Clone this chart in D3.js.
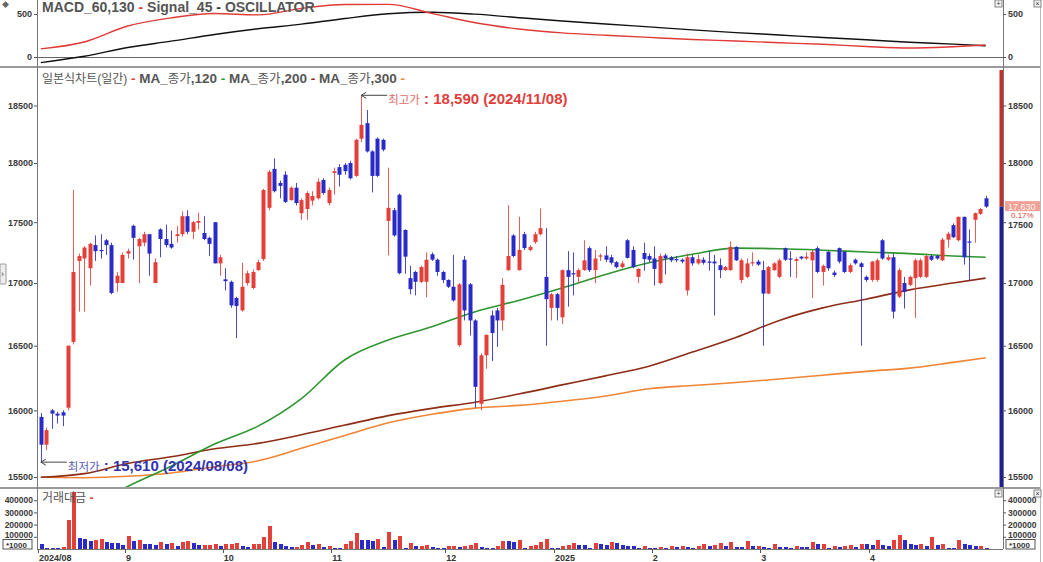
<!DOCTYPE html>
<html><head><meta charset="utf-8">
<script src="https://cdn.jsdelivr.net/npm/d3@7"></script>
<style>
body{margin:0;background:#fff;overflow:hidden;}
svg{display:block;font-family:"Liberation Sans","Noto Sans CJK KR",Arial,sans-serif;}
</style>
</head><body>
<svg id="c" width="1043" height="562"></svg>
<script>
// ---------------- DATA ----------------
const open = [15950,15740,16000,15975,15985,16020,16530,17180,17200,17120,
17310,17270,17350,17310,17000,17000,17240,17470,17300,17330,
17400,17000,17440,17360,17320,17385,17400,17550,17420,17495,
17410,17370,17500,17160,17030,17010,16880,16780,17000,16960,
17105,17195,17620,17950,17830,17900,17685,17790,17575,17610,
17680,17700,17855,17660,17915,17965,17985,18000,17890,18210,
18345,18100,18210,18200,17510,17600,17730,17435,17040,17090,
17010,17010,17235,17190,17090,17025,16970,16505,17190,16990,
16700,16050,16425,16740,16780,16700,17105,17390,17105,17400,
17270,17335,17400,17050,16800,16910,16725,17105,17080,17050,
17105,17285,17105,17215,17225,17210,17170,17130,17350,17270,
17050,17245,17220,17200,17000,17225,17210,17195,17190,16940,
17210,17160,17190,17175,17175,17145,17105,17105,17295,17025,
17050,17160,17175,17105,16915,17105,17050,17285,17200,17180,
17215,17200,17185,17285,17090,17255,17085,17285,17255,17090,
17190,17160,17050,17025,17025,17350,17190,17210,16890,17000,
16985,17040,17050,17050,17220,17220,17185,17355,17475,17350,
17545,17340,17520,17570,17700];
const high = [15980,15870,16010,15990,16000,16500,17770,17240,17300,17330,
17390,17400,17360,17330,17090,17250,17280,17480,17370,17420,
17400,17200,17450,17480,17430,17470,17590,17600,17510,17580,
17550,17380,17500,17230,17120,17020,16890,17165,17100,17110,
17190,17780,17940,18040,17850,17930,17800,17830,17700,17760,
17760,17870,17870,17790,17960,17990,18000,18020,18210,18590,
18460,18110,18220,18210,17960,17620,17740,17440,17140,17100,
17140,17250,17250,17200,17100,17030,17230,17000,17220,17000,
16710,16440,16590,16780,16800,17040,17640,17400,17545,17420,
17310,17420,17615,17450,16920,16920,17110,17260,17250,17120,
17350,17300,17270,17240,17300,17230,17180,17180,17360,17300,
17120,17330,17240,17300,17240,17240,17220,17220,17200,17240,
17230,17230,17210,17260,17230,17200,17140,17340,17300,17200,
17200,17250,17190,17180,17140,17170,17200,17290,17260,17210,
17220,17250,17270,17300,17150,17260,17100,17290,17260,17160,
17200,17170,17060,17180,17200,17360,17230,17240,17120,17050,
17060,17200,17200,17230,17230,17230,17370,17420,17490,17545,
17545,17440,17580,17620,17720];
const low = [15610,15700,15860,15900,15880,16000,16510,16770,16770,16980,
17180,17200,17230,16910,16930,17000,17200,17190,17000,17300,
17060,17000,17210,17290,17280,17330,17380,17400,17360,17440,
17350,17220,17160,17060,16940,16800,16560,16770,16980,16950,
17100,17180,17600,17750,17700,17660,17680,17640,17520,17520,
17640,17690,17730,17640,17730,17800,17900,17860,17880,18180,
18090,17750,17880,18100,17225,17380,17070,17075,16910,16900,
17000,16885,17180,17060,17000,16960,16850,16490,16700,16580,
16020,16000,16320,16380,16490,16620,17100,17210,17100,17270,
17260,17320,17390,16500,16700,16700,16670,16810,16900,17000,
17100,17090,17000,17180,17170,17150,17120,17120,17200,17120,
17000,17100,17170,16980,16990,17070,17170,17170,17160,16900,
17140,17150,17150,17100,16740,17040,17100,17100,17180,17000,
17040,17140,17140,16500,16910,17100,17040,17180,17050,17040,
17190,17190,16880,17080,16980,17100,17050,17160,17080,17080,
17150,16500,17010,17010,17010,17190,17180,16715,16880,16795,
16975,16720,17040,17040,17180,17190,17180,17290,17370,17340,
17150,17020,17330,17560,17620];
const close = [15740,15850,15975,15960,15960,16500,17090,17220,17290,17320,
17260,17260,17310,16920,17060,17230,17260,17370,17360,17400,
17240,17170,17360,17310,17290,17400,17550,17420,17500,17510,
17360,17320,17160,17210,17015,16820,16815,16970,17080,17090,
17170,17770,17925,17760,17805,17670,17790,17660,17685,17745,
17720,17840,17745,17770,17930,17900,17930,17870,18200,18330,
18100,17890,17890,18115,17620,17390,17080,17215,16950,17010,
17130,17190,17190,17090,17025,16970,16860,16990,16780,16700,
16180,16425,16585,16600,16700,16985,17220,17220,17270,17285,
17295,17400,17450,16870,16910,16800,17105,17050,17070,17105,
17185,17105,17200,17225,17190,17165,17130,17160,17205,17130,
17115,17195,17190,17115,17220,17200,17185,17190,17175,17210,
17160,17195,17165,17165,17160,17105,17130,17295,17185,17185,
17160,17170,17150,16915,17130,17160,17185,17190,17195,17195,
17200,17215,17255,17090,17140,17120,17065,17175,17090,17145,
17160,17130,17025,17175,17185,17200,17210,16770,17105,16930,
17050,17185,17185,17220,17190,17200,17355,17405,17375,17545,
17210,17330,17575,17610,17630];
// 거래대금 (x1000)
const volume = [41000,10000,7000,6000,15000,238000,470000,90000,85000,62000,
70000,80000,55000,52000,48000,30000,110000,62000,72000,45000,
43000,30000,55000,45000,50000,28000,60000,63000,50000,30000,
35000,36000,38000,25000,38000,42000,47000,22000,15000,40000,
45000,100000,190000,55000,40000,25000,15000,18000,35000,57000,
30000,41000,16000,22000,8000,7000,44000,68000,131000,71000,
70000,66000,85000,16000,137000,74000,104000,8000,49000,22000,
27000,30000,14000,11000,8000,22000,25000,14000,27000,35000,
49000,14000,11000,8000,27000,68000,63000,60000,77000,8000,
27000,35000,55000,85000,11000,8000,22000,30000,49000,35000,
30000,11000,49000,41000,35000,55000,50000,30000,28000,22000,
12000,25000,10000,8000,20000,8000,27000,14000,25000,14000,
11000,22000,41000,22000,30000,46000,27000,60000,16000,15000,
68000,27000,28000,14000,8000,44000,16000,14000,8000,22000,
16000,14000,57000,38000,41000,8000,27000,14000,27000,30000,
14000,44000,43000,35000,77000,35000,22000,77000,115000,71000,
38000,35000,41000,27000,98000,35000,41000,8000,7000,71000,
41000,35000,27000,28000,8000];
// line series sampled at these candle indices
const sampleIdx = [0,8,16,24,32,40,48,56,64,72,80,88,96,104,112,120,128,136,144,152,160,168,174];
const ma120 = [15120,15270,15430,15580,15745,15880,16090,16390,16545,16650,16770,16860,16960,17070,17165,17235,17285,17280,17268,17253,17240,17220,17210];
const ma200 = [15498,15525,15600,15650,15710,15750,15815,15888,15960,16015,16062,16125,16195,16265,16340,16450,16565,16700,16800,16870,16945,17000,17040];
const ma300 = [15498,15495,15505,15530,15575,15620,15713,15810,15905,15970,16017,16038,16070,16110,16165,16190,16213,16240,16270,16300,16325,16370,16405];
const macd   = [95,175,360,455,505,490,565,610,612,508,398,326,280,253,228,204,186,166,148,122,104,120,140];
const signal = [-66,8,110,184,262,328,382,448,503,520,498,457,418,384,350,316,284,256,227,200,172,150,131];
const monthIdx = [0,16,34,54,75,95,113,133,153];
const monthLabels = ["2024/08","9","10","11","12","2025","2","3","4"];
const priceTicks = [15500,16000,16500,17000,17500,18000,18500];
const volTicks = [100000,200000,300000,400000];
const macdTicks = [0,500];
const lastPrice = 17630, lastPriceText = "17,630", lastChangeText = "0.17%";
const hiIdx = 59, hiValue = 18590, hiText = "18,590 (2024/11/08)";
const loIdx = 0, loValue = 15610, loText = "15,610 (2024/08/08)";

// ---------------- CHART ----------------
const N = open.length;
const RED = "#e4403a", BLUE = "#2a2ac6";
const svg = d3.select("#c");
svg.append("rect").attr("width",1043).attr("height",562).attr("fill","#fff");

const XL = 37, XR = 1003;
const x = d3.scaleBand().domain(d3.range(N + 2)).range([38.1, 38.1 + (N + 2) * 5.43]).padding(0);
const cx = i => x(i) + x.bandwidth() / 2;
const bw = 4;
const y = d3.scaleLog().domain([15500, 18500]).range([477, 105.5]);
const ym = d3.scaleLinear().domain([0, 500]).range([57, 14]);
const yv = d3.scaleLinear().domain([0, 400000]).range([549, 500.2]);

const defs = svg.append("defs");
defs.append("clipPath").attr("id","cm").append("rect").attr("x",XL).attr("y",69).attr("width",XR-XL-3).attr("height",418);
defs.append("clipPath").attr("id","cd").append("rect").attr("x",XL).attr("y",0).attr("width",XR-XL).attr("height",66);

// frame lines
const frame = svg.append("g").attr("stroke","#9a9a9a").attr("shape-rendering","crispEdges");
frame.append("line").attr("x1",0).attr("x2",1041).attr("y1",67).attr("y2",67).attr("stroke-width",2);
frame.append("line").attr("x1",0).attr("x2",1041).attr("y1",488).attr("y2",488).attr("stroke-width",2);
frame.append("line").attr("x1",XL).attr("x2",XL).attr("y1",0).attr("y2",549).attr("stroke","#777");
frame.append("line").attr("x1",XR).attr("x2",XR).attr("y1",0).attr("y2",549).attr("stroke","#777");
frame.append("line").attr("x1",1040).attr("x2",1040).attr("y1",0).attr("y2",562).attr("stroke","#bbb");
frame.append("line").attr("x1",XL).attr("x2",XR).attr("y1",549).attr("y2",549).attr("stroke","#777");

// ---- MACD panel
svg.append("line").attr("x1",XL).attr("x2",XR).attr("y1",ym(0)).attr("y2",ym(0))
  .attr("stroke","#666").attr("shape-rendering","crispEdges");
const lineM = d3.line().x((d,k)=>cx(sampleIdx[k])).y(d=>ym(d)).curve(d3.curveMonotoneX);
const gM = svg.append("g").attr("clip-path","url(#cd)");
gM.append("path").attr("d",lineM(signal)).attr("fill","none").attr("stroke","#111").attr("stroke-width",1.4);
gM.append("path").attr("d",lineM(macd)).attr("fill","none").attr("stroke","#e03a36").attr("stroke-width",1.4);

function styleAxis(g, fs){
  g.select(".domain").remove();
  g.selectAll("line").attr("stroke","#555");
  g.selectAll("text").attr("font-size",fs).attr("font-weight","bold").attr("fill","#3a3a3a")
   .attr("font-family","'Liberation Sans',Arial,sans-serif");
  return g;
}
styleAxis(svg.append("g").attr("transform",`translate(${XL},0)`)
  .call(d3.axisLeft(ym).tickValues(macdTicks).tickSize(3).tickPadding(2).tickFormat(d3.format("d"))), 9);
styleAxis(svg.append("g").attr("transform",`translate(${XR},0)`)
  .call(d3.axisRight(ym).tickValues(macdTicks).tickSize(3).tickPadding(2).tickFormat(d3.format("d"))), 9);

const tM = svg.append("text").attr("x",42).attr("y",12).attr("font-size",14).attr("font-weight","bold").attr("fill","#555");
tM.append("tspan").text("MACD_60,130");
tM.append("tspan").attr("fill","#e03a36").text(" - ");
tM.append("tspan").text("Signal_45");
tM.append("tspan").attr("fill","#333").text(" - ");
tM.append("tspan").text("OSCILLATOR");

// ---- Main panel
const gP = svg.append("g").attr("clip-path","url(#cm)");
const lineP = d3.line().x((d,k)=>cx(sampleIdx[k])).y(d=>y(d)).curve(d3.curveMonotoneX);
[[ma300,"#f08535"],[ma200,"#8e2d16"],[ma120,"#2f962f"]].forEach(([s,c])=>{
  gP.append("path").attr("d",lineP(s)).attr("fill","none").attr("stroke",c).attr("stroke-width",1.6);
});
const candles = gP.selectAll("g.c").data(d3.range(N)).join("g");
candles.append("line")
  .attr("x1",i=>Math.round(cx(i))+0.5).attr("x2",i=>Math.round(cx(i))+0.5)
  .attr("y1",i=>y(high[i])).attr("y2",i=>y(low[i]))
  .attr("stroke",i=>close[i]>=open[i]?RED:BLUE).attr("stroke-width",1).attr("opacity",0.85);
candles.append("rect")
  .attr("x",i=>Math.round(cx(i))-bw/2+0.5).attr("width",bw)
  .attr("y",i=>y(Math.max(open[i],close[i])))
  .attr("height",i=>Math.max(1.2, y(Math.min(open[i],close[i]))-y(Math.max(open[i],close[i]))))
  .attr("fill",i=>close[i]>=open[i]?RED:BLUE);

// price axes
styleAxis(svg.append("g").attr("transform",`translate(${XL},0)`)
  .call(d3.axisLeft(y).tickValues(priceTicks).tickSize(3).tickPadding(1).tickFormat(d3.format("d"))), 9);
styleAxis(svg.append("g").attr("transform",`translate(${XR},0)`)
  .call(d3.axisRight(y).tickValues(priceTicks).tickSize(3).tickPadding(2).tickFormat(d3.format("d"))), 9)
  .selectAll(".tick text").attr("dy", d => d === 17500 ? "0.62em" : "0.32em");

// current price bar on right axis
svg.append("rect").attr("x",XR-3.5).attr("y",70).attr("width",3.5).attr("height",y(lastPrice)-70).attr("fill","#c52e2a");
svg.append("rect").attr("x",XR-3.5).attr("y",y(lastPrice)).attr("width",3.5).attr("height",487-y(lastPrice)).attr("fill","#1d1d9e");
svg.append("rect").attr("x",1005).attr("y",y(lastPrice)-5.5).attr("width",35).attr("height",10).attr("fill","#f3a096");
svg.append("text").attr("x",1008).attr("y",y(lastPrice)+3).attr("font-size",9).attr("fill","#fff5f0").text(lastPriceText);
svg.append("text").attr("x",1011).attr("y",y(lastPrice)+11.5).attr("font-size",8).attr("fill","#e0403a").text(lastChangeText);

// legend
const tL = svg.append("text").attr("x",42).attr("y",83).attr("font-size",13.5).attr("fill","#555");
tL.append("tspan").attr("font-size",12).text("일본식차트(일간)");
tL.append("tspan").attr("fill",RED).attr("font-weight","bold").text(" - ");
[["120","#2f962f"],["200","#8e2d16"],["300","#f08535"]].forEach(([p,c])=>{
  tL.append("tspan").attr("font-weight","bold").text("MA_");
  tL.append("tspan").attr("font-size",12.5).text("종가");
  tL.append("tspan").attr("font-weight","bold").text(","+p);
  tL.append("tspan").attr("fill",c).attr("font-weight","bold").text(" - ");
});

// high / low annotations
function annot(i, v, label, kor, colNum, colKor){
  const ax = cx(i), ay = y(v);
  svg.append("path").attr("d",`M${ax},${ay}H${ax+26}M${ax+5},${ay-3}L${ax},${ay}L${ax+5},${ay+3}`)
    .attr("fill","none").attr("stroke","#444").attr("stroke-width",1);
  const t = svg.append("text").attr("x",ax+27).attr("y",ay+9).attr("fill",colNum);
  t.append("tspan").attr("font-size",11.5).attr("fill",colKor).text(kor);
  t.append("tspan").attr("font-size",15).attr("font-weight","bold").text(" : "+label);
}
annot(hiIdx, hiValue, hiText, "최고가", "#e0403c", "#e26a66");
annot(loIdx, loValue, loText, "최저가", "#3333ae", "#5858bc");

// ---- Volume panel
svg.append("g").selectAll("rect").data(d3.range(N)).join("rect")
  .attr("x",i=>Math.round(cx(i))-bw/2+0.5).attr("width",bw)
  .attr("y",i=>yv(volume[i])).attr("height",i=>549-yv(volume[i]))
  .attr("fill",i=>(i>0 && volume[i]>volume[i-1])?RED:BLUE)
  .attr("shape-rendering","crispEdges");
styleAxis(svg.append("g").attr("transform",`translate(${XL},0)`)
  .call(d3.axisLeft(yv).tickValues(volTicks).tickSize(3).tickPadding(1).tickFormat(d3.format("d"))), 8.5)
  .selectAll(".tick text").attr("dy", d => d === 100000 ? "0.05em" : "0.32em");
styleAxis(svg.append("g").attr("transform",`translate(${XR},0)`)
  .call(d3.axisRight(yv).tickValues(volTicks).tickSize(3).tickPadding(2).tickFormat(d3.format("d"))), 8.5)
  .selectAll(".tick text").attr("dy", d => d === 100000 ? "0.05em" : "0.32em");
[[3,539.5],[1006,539.5]].forEach(([bx,by])=>{
  svg.append("rect").attr("x",bx).attr("y",by).attr("width",29).attr("height",9.5).attr("fill","#fff").attr("stroke","#555");
  svg.append("text").attr("x",bx+3).attr("y",by+8).attr("font-size",8).attr("font-weight","bold").attr("fill","#333").text("*1000");
});
const tV = svg.append("text").attr("x",42).attr("y",502).attr("font-size",12).attr("fill","#555");
tV.append("tspan").text("거래대금");
tV.append("tspan").attr("fill",RED).attr("font-weight","bold").text(" -");

// ---- x axis
const gx = svg.append("g");
monthIdx.forEach((m,k)=>{
  gx.append("line").attr("x1",Math.round(x(m))+0.5).attr("x2",Math.round(x(m))+0.5).attr("y1",549).attr("y2",553)
    .attr("stroke","#555");
  gx.append("text").attr("x",x(m)+1).attr("y",561).attr("font-size",9).attr("font-weight","bold")
    .attr("fill","#333").text(monthLabels[k]);
});

// small UI boxes
function box(bx,by,sym){
  svg.append("rect").attr("x",bx).attr("y",by).attr("width",7).attr("height",7).attr("fill","#f4f4f4").attr("stroke","#666").attr("stroke-width",0.8);
  svg.append("text").attr("x",bx+3.5).attr("y",by+6).attr("text-anchor","middle").attr("font-size",7).attr("fill","#333").text(sym);
}
box(995,0,"+"); box(1034,0,"×"); box(995,490,"+"); box(1034,490,"×");
svg.append("rect").attr("x",0).attr("y",264).attr("width",6).attr("height",20).attr("rx",1).attr("fill","#eee").attr("stroke","#999");
svg.append("text").attr("x",1).attr("y",277).attr("font-size",9).attr("fill","#444").text("›");
svg.append("text").attr("x",2).attr("y",7).attr("font-size",7).attr("fill","#666").text("◆");
</script>
</body></html>
